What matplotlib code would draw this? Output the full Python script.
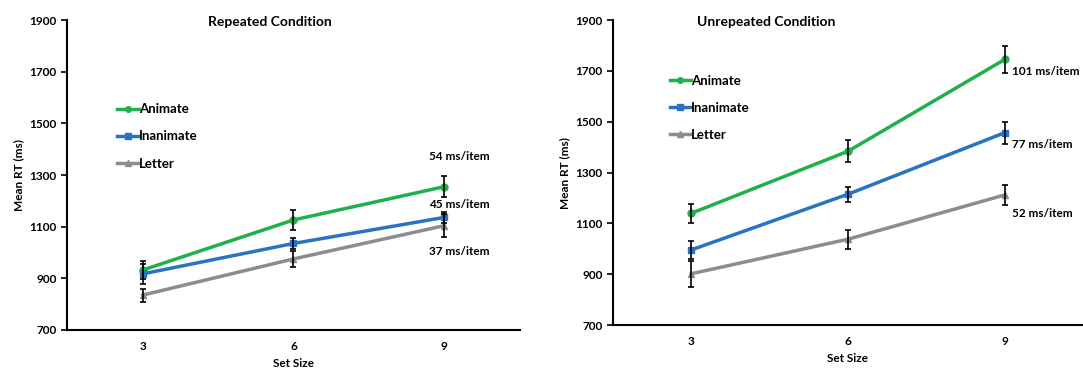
import matplotlib.pyplot as plt

plt.rcParams['font.family'] = ['Lato', 'DejaVu Sans']
plt.rcParams['font.weight'] = 'bold'

set_size = [3, 6, 9]
labels = ['Animate', 'Inanimate', 'Letter']

rep_means = {'Animate': [932, 1126, 1255],
             'Inanimate': [917, 1035, 1136],
             'Letter': [835, 975, 1104]}
rep_err = {'Animate': [35, 40, 40],
           'Inanimate': [40, 20, 20],
           'Letter': [25, 30, 45]}
rep_slopes = ['54 ms/item', '45 ms/item', '37 ms/item']
rep_slope_y = [1370, 1184, 1002]

unrep_means = {'Animate': [1140, 1384, 1745],
               'Inanimate': [996, 1215, 1457],
               'Letter': [902, 1038, 1212]}
unrep_err = {'Animate': [38, 43, 55],
             'Inanimate': [35, 30, 43],
             'Letter': [52, 38, 40]}
unrep_slopes = ['101 ms/item', '77 ms/item', '52 ms/item']
unrep_slope_y = [1697, 1409, 1141]

colors = {'Animate': '#1fb04c', 'Inanimate': '#2a73c2', 'Letter': '#8c8c8c'}
markers = {'Animate': 'o', 'Inanimate': 's', 'Letter': '^'}

fig = plt.figure(figsize=(10.83, 3.72), dpi=100)
ax1 = fig.add_axes([0.062, 0.113, 0.418, 0.833])
ax2 = fig.add_axes([0.566, 0.126, 0.434, 0.82])


def draw(ax, means, errs, title, tx, slopes, slope_y, sx, ha, leg_pos):
    for lab in labels:
        ax.plot(set_size, means[lab], color=colors[lab], marker=markers[lab],
                markersize=5, lw=2.5, label=lab, zorder=2)
        ax.errorbar(set_size, means[lab], yerr=errs[lab], fmt='none',
                    ecolor='black', elinewidth=1.2, capsize=2.5, capthick=1.2, zorder=3)
    ax.set_xlim(1.5, 10.5)
    ax.set_ylim(700, 1900)
    ax.set_xticks(set_size)
    ax.set_yticks(range(700, 1901, 200))
    ax.tick_params(axis='x', length=0, labelsize=8.5, pad=8)
    ax.tick_params(axis='y', direction='out', length=4, width=1.2, labelsize=8.5)
    for s in ['top', 'right']:
        ax.spines[s].set_visible(False)
    for s in ['left', 'bottom']:
        ax.spines[s].set_linewidth(1.5)
    ax.set_xlabel('Set Size', fontsize=8.5, fontweight='bold')
    ax.set_ylabel('Mean RT (ms)', fontsize=8.5, fontweight='bold')
    ax.text(tx, 0.995, title, transform=ax.transAxes, ha='center', va='center',
            fontsize=10, fontweight='bold')
    for t, y in zip(slopes, slope_y):
        ax.text(sx, y, t, ha=ha, va='center', fontsize=8.5, fontweight='bold')
    ax.legend(loc='upper left', bbox_to_anchor=leg_pos, frameon=False,
              handlelength=1.6, handletextpad=0.0, labelspacing=1.15,
              prop={'size': 9.5, 'weight': 'bold'}, markerscale=0.8)


draw(ax1, rep_means, rep_err, 'Repeated Condition', 0.448,
     rep_slopes, rep_slope_y, 9.3, 'center', (0.085, 0.77))
draw(ax2, unrep_means, unrep_err, 'Unrepeated Condition', 0.326,
     unrep_slopes, unrep_slope_y, 9.15, 'left', (0.095, 0.86))

fig.savefig('out.png', dpi=100)
